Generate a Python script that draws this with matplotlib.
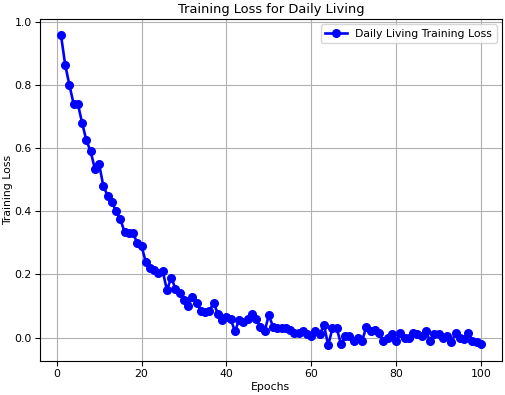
import matplotlib
matplotlib.use("Agg")
import matplotlib.pyplot as plt

epochs = list(range(1, 101))
loss = [0.96, 0.865, 0.80, 0.74, 0.74, 0.68, 0.625, 0.59, 0.535, 0.55,
        0.48, 0.45, 0.43, 0.40, 0.375, 0.335, 0.33, 0.33, 0.30, 0.29,
        0.24, 0.22, 0.215, 0.205, 0.21, 0.15, 0.19, 0.155, 0.14, 0.12,
        0.10, 0.13, 0.11, 0.085, 0.08, 0.085, 0.11, 0.075, 0.055, 0.065,
        0.06, 0.02, 0.055, 0.05, 0.06, 0.075, 0.06, 0.035, 0.02, 0.07,
        0.035, 0.03, 0.03, 0.03, 0.025, 0.015, 0.015, 0.02, 0.01, 0.005,
        0.02, 0.01, 0.04, -0.025, 0.03, 0.03, -0.02, 0.005, 0.005, -0.01,
        0.0, -0.01, 0.035, 0.02, 0.025, 0.015, -0.01, 0.0, 0.01, -0.01,
        0.015, 0.0, 0.0, 0.015, 0.01, 0.005, 0.02, -0.01, 0.01, 0.01,
        0.0, 0.005, -0.015, 0.015, 0.0, -0.005, 0.015, -0.01, -0.015, -0.02]

plt.rcParams['font.size'] = 7.8

fig, ax = plt.subplots(figsize=(5.05, 3.95), dpi=100)
ax.plot(epochs, loss, '-o', color='blue', linewidth=1.9, markersize=5.5,
        label='Daily Living Training Loss')
ax.grid(True, color='#b0b0b0', linewidth=0.8)
ax.legend(loc='upper right')
ax.set_title("Training Loss for Daily Living", pad=4)
ax.set_xlabel("Epochs", labelpad=2)
ax.set_ylabel("Training Loss", labelpad=1)
ax.tick_params(pad=2.5)
fig.subplots_adjust(left=0.079, right=0.994, top=0.952, bottom=0.086)
fig.savefig("out.png")
